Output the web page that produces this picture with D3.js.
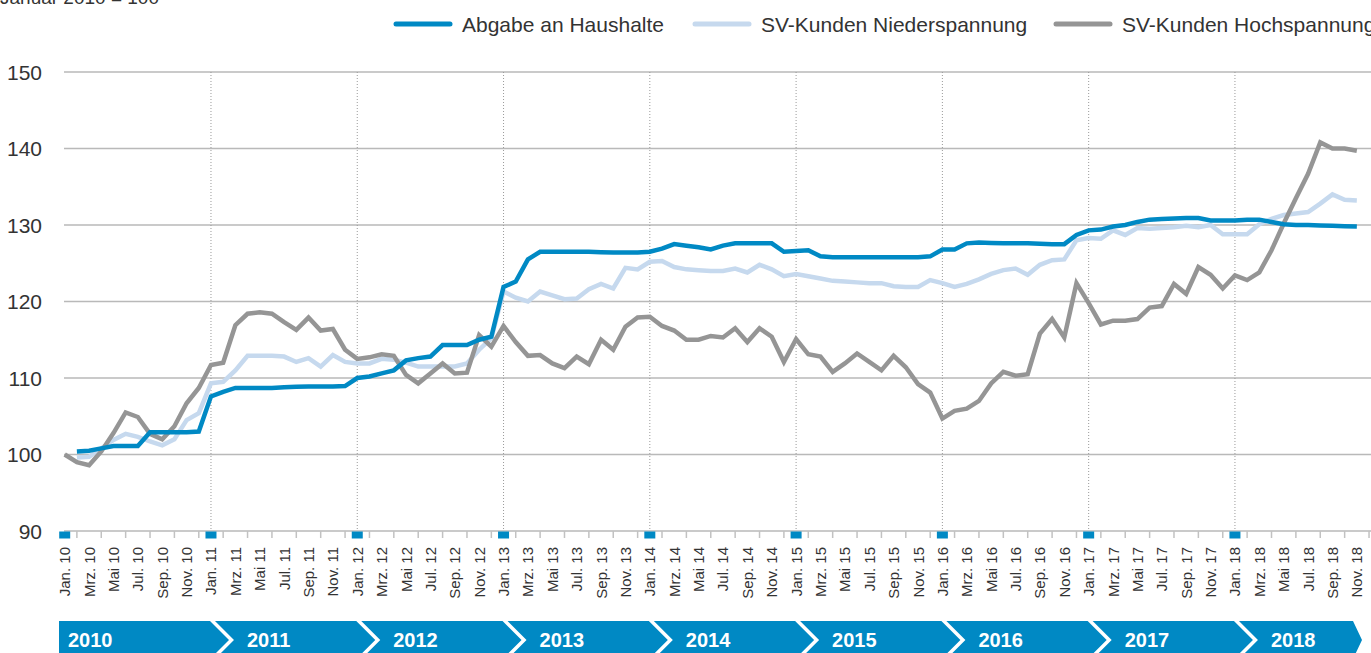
<!DOCTYPE html>
<html>
<head>
<meta charset="utf-8">
<script src="https://cdn.jsdelivr.net/npm/d3@7"></script>
<style>
  html, body { margin: 0; padding: 0; background: #fff; }
  svg { display: block; font-family: "Liberation Sans", Arial, Helvetica, sans-serif; }
</style>
</head>
<body>
<svg id="chart" width="1371" height="653"></svg>
<script>
// ---------- data ----------
const monthNames = ["Jan.", "Feb.", "Mrz.", "Apr.", "Mai", "Jun.", "Jul.", "Aug.", "Sep.", "Okt.", "Nov.", "Dez."];
const years = [2010, 2011, 2012, 2013, 2014, 2015, 2016, 2017, 2018];
const lastMonthIndex = 106; // Nov. 18
const yTicks = [90, 100, 110, 120, 130, 140, 150];
const titleText = "Januar 2010 = 100";
const seriesNames = ["Abgabe an Haushalte", "SV-Kunden Niederspannung", "SV-Kunden Hochspannung"];

// Abgabe an Haushalte (first month not drawn)
const haushalte = [null,
 100.4,100.5,100.8,101.1,101.1,101.1,102.9,102.9,102.9,102.9,103.0,
 107.6,108.2,108.7,108.7,108.7,108.7,108.8,108.85,108.9,108.9,108.9,108.95,
 110.0,110.2,110.6,111.0,112.3,112.6,112.8,114.3,114.3,114.3,115.0,115.4,
 121.9,122.6,125.5,126.5,126.5,126.5,126.5,126.5,126.45,126.4,126.4,126.4,
 126.5,126.9,127.5,127.3,127.1,126.8,127.3,127.6,127.6,127.6,127.6,126.5,
 126.6,126.7,125.9,125.8,125.8,125.8,125.8,125.8,125.8,125.8,125.8,125.9,
 126.8,126.8,127.6,127.7,127.65,127.6,127.6,127.6,127.55,127.5,127.5,128.7,
 129.3,129.4,129.8,130.0,130.4,130.7,130.8,130.85,130.9,130.9,130.6,130.6,
 130.6,130.7,130.7,130.4,130.1,130.0,130.0,129.95,129.9,129.85,129.8];

// SV-Kunden Niederspannung
const niederspannung = [null,
 99.6,99.7,100.8,101.9,102.7,102.3,101.7,101.2,102.0,104.5,105.4,
 109.3,109.5,111.0,112.9,112.9,112.9,112.8,112.1,112.6,111.5,113.0,112.1,
 111.9,111.9,112.5,112.4,112.0,111.5,111.5,111.5,111.5,111.9,113.7,115.2,
 121.3,120.5,120.0,121.3,120.8,120.3,120.4,121.6,122.3,121.7,124.4,124.2,
 125.2,125.3,124.5,124.2,124.1,124.0,124.0,124.3,123.8,124.8,124.2,123.3,
 123.6,123.3,123.0,122.7,122.6,122.5,122.4,122.4,122.0,121.9,121.9,122.8,
 122.4,121.9,122.3,122.9,123.6,124.1,124.3,123.5,124.8,125.4,125.5,128.0,
 128.3,128.2,129.3,128.7,129.6,129.5,129.6,129.7,129.9,129.7,130.0,128.8,
 128.8,128.8,130.1,130.8,131.3,131.5,131.7,132.8,134.0,133.3,133.2];

// SV-Kunden Hochspannung
const hochspannung = [
 100.0,99.0,98.6,100.4,102.8,105.5,104.9,102.7,102.0,103.7,106.7,108.7,
 111.7,112.0,116.9,118.4,118.6,118.4,117.3,116.3,117.9,116.2,116.4,113.7,
 112.5,112.7,113.1,112.9,110.4,109.3,110.6,111.9,110.6,110.7,115.6,114.1,
 116.8,114.7,112.9,113.0,111.9,111.3,112.8,111.8,115.0,113.7,116.7,117.9,
 118.0,116.8,116.2,115.0,115.0,115.5,115.3,116.5,114.7,116.5,115.4,112.1,
 115.1,113.1,112.8,110.8,111.9,113.2,112.1,111.0,112.9,111.4,109.2,108.1,
 104.7,105.7,106.0,107.0,109.3,110.8,110.3,110.5,115.8,117.7,115.3,122.4,
 119.8,117.0,117.5,117.5,117.7,119.2,119.4,122.3,121.0,124.5,123.5,121.7,
 123.4,122.8,123.8,126.7,130.2,133.5,136.7,140.8,140.0,140.0,139.7];

// categories: month labels
const categories = [];
years.forEach(y => monthNames.forEach(m => categories.push(m + " " + String(y).slice(2))));
categories.length = lastMonthIndex + 1;

// ---------- styles ----------
const C_BLUE = "#0089c4", C_LIGHT = "#c6d9ee", C_GRAY = "#959595", C_TEXT = "#333333";

const svg = d3.select("#chart");
const x = d3.scaleLinear().domain([0, lastMonthIndex]).range([64.7, 64.7 + lastMonthIndex * 12.19]);
const y = d3.scaleLinear().domain([90, 150]).range([531, 72]);

// title
svg.append("text").attr("x", 0).attr("y", 4).attr("font-size", 19).attr("fill", C_TEXT).text(titleText);

// horizontal grid
svg.append("g").selectAll("line").data(yTicks).join("line")
  .attr("x1", 64).attr("x2", 1371)
  .attr("y1", d => y(d)).attr("y2", d => y(d))
  .attr("stroke", "#b9b9b9").attr("stroke-width", 1.3);

// y labels
svg.append("g").selectAll("text").data(yTicks).join("text")
  .attr("x", 42).attr("y", d => y(d)).attr("dy", "0.36em")
  .attr("text-anchor", "end").attr("font-size", 21).attr("fill", C_TEXT)
  .text(d => d);

// vertical dotted lines at January (from 2011)
const janIdx = years.map((yr, k) => k * 12);
svg.append("g").selectAll("line").data(janIdx.filter(i => i > 0)).join("line")
  .attr("x1", d => x(d)).attr("x2", d => x(d))
  .attr("y1", y(150)).attr("y2", y(90))
  .attr("stroke", "#9a9a9a").attr("stroke-width", 1).attr("stroke-dasharray", "1,2");

// x ticks at odd months
const oddIdx = d3.range(1, lastMonthIndex + 2, 2);
svg.append("g").selectAll("line").data(oddIdx).join("line")
  .attr("x1", d => x(d)).attr("x2", d => x(d))
  .attr("y1", y(90)).attr("y2", y(90) + 7)
  .attr("stroke", "#c2c2c2").attr("stroke-width", 1.5);

// blue squares at January
svg.append("g").selectAll("rect").data(janIdx).join("rect")
  .attr("x", d => x(d) - 5.5).attr("y", y(90) + 0.5)
  .attr("width", 11).attr("height", 7).attr("fill", C_BLUE);

// x labels (every second month)
const evenIdx = d3.range(0, lastMonthIndex + 1, 2);
svg.append("g").selectAll("text").data(evenIdx).join("text")
  .attr("transform", d => `translate(${x(d) + 5.5},547) rotate(-90)`)
  .attr("text-anchor", "end").attr("font-size", 15).attr("fill", C_TEXT)
  .text(d => categories[d]);

// lines
const line = d3.line().defined(d => d.v != null).x(d => x(d.i)).y(d => y(d.v));
const toPts = arr => arr.map((v, i) => ({ i, v }));
[[niederspannung, C_LIGHT], [hochspannung, C_GRAY], [haushalte, C_BLUE]].forEach(([arr, col]) => {
  svg.append("path").datum(toPts(arr)).attr("d", line)
    .attr("fill", "none").attr("stroke", col).attr("stroke-width", 4.5)
    .attr("stroke-linejoin", "miter").attr("stroke-miterlimit", 3);
});

// legend
const legendX = [396, 695, 1056];
const legendCols = [C_BLUE, C_LIGHT, C_GRAY];
seriesNames.forEach((name, k) => {
  svg.append("line").attr("x1", legendX[k]).attr("x2", legendX[k] + 54)
    .attr("y1", 24).attr("y2", 24).attr("stroke", legendCols[k]).attr("stroke-width", 5)
    .attr("stroke-linecap", "round");
  svg.append("text").attr("x", legendX[k] + 66).attr("y", 31.5)
    .attr("font-size", 21).attr("fill", C_TEXT).text(name);
});

// year band with chevrons
const bandTop = 621, bandMid = 640, bandBot = 659, depth = 19;
const band = svg.append("g");
years.forEach((yr, k) => {
  const J = x(k * 12);
  const Jn = x((k + 1) * 12);
  let pts;
  const leftTop = k === 0 ? 59 : J + 4;
  const rightTop = k === years.length - 1 ? 1353 : Jn - 1;
  const rightTip = k === years.length - 1 ? 1362 : Jn - 1 + depth;
  if (k === 0) {
    pts = [[leftTop, bandTop], [rightTop, bandTop], [rightTip, bandMid], [rightTop, bandBot], [leftTop, bandBot]];
  } else {
    pts = [[leftTop, bandTop], [rightTop, bandTop], [rightTip, bandMid], [rightTop, bandBot], [leftTop, bandBot], [leftTop + depth, bandMid]];
  }
  band.append("polygon").attr("points", pts.map(p => p.join(",")).join(" ")).attr("fill", C_BLUE);
  band.append("text")
    .attr("x", k === 0 ? 68 : J + 36).attr("y", 647)
    .attr("font-size", 20).attr("font-weight", "bold").attr("fill", "#fff")
    .text(yr);
});
</script>
</body>
</html>
